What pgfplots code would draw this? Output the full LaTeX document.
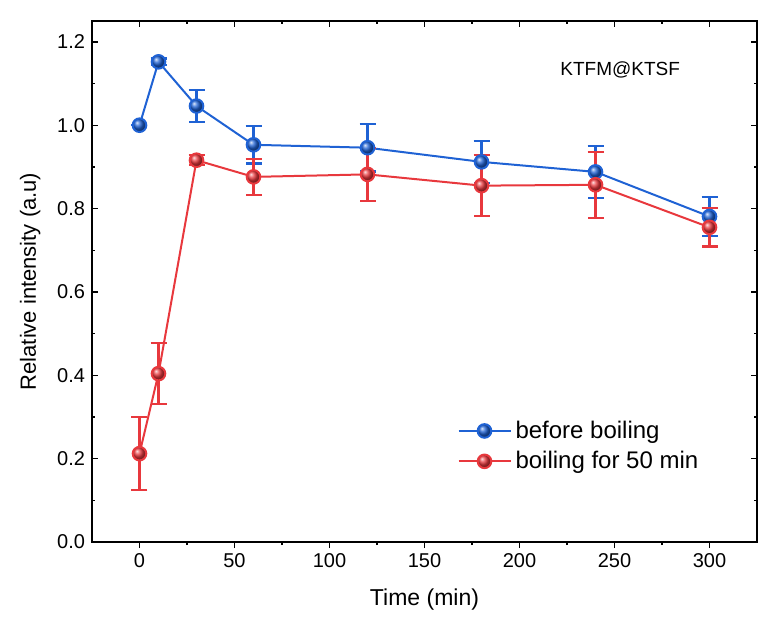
\documentclass[border=0pt]{standalone}
\usepackage{fontspec}
\setmainfont{Liberation Sans}
\usepackage{pgfplots}
\usepackage{pgfplotstable}
\pgfplotsset{compat=1.18}
\usetikzlibrary{calc}
\definecolor{bBlue}{HTML}{1F62D4}
\definecolor{bRed}{HTML}{E8383D}

% time, relative intensity, error
\pgfplotstableread{
t y e
0   1.000 0.000
10  1.152 0.008
30  1.046 0.038
60  0.953 0.045
120 0.946 0.057
180 0.912 0.050
240 0.888 0.062
300 0.781 0.047
}\before
\pgfplotstableread{
t y e
0   0.212 0.088
10  0.404 0.073
30  0.916 0.012
60  0.876 0.043
120 0.882 0.064
180 0.855 0.073
240 0.857 0.079
300 0.755 0.046
}\boiled

\pgfplotsset{
  frame/.style={
    scale only axis,
    width=332.5pt, height=260.5pt,
    xmin=-25, xmax=325, ymin=0, ymax=1.25,
    xtick={0,50,...,300}, ytick={0,0.2,...,1.2},
    minor x tick num=1, minor y tick num=1,
    major tick length=3pt, minor tick length=1.6pt,
    axis line style={line width=0.8pt},
    every tick/.style={black,line width=0.7pt},
  },
}

\begin{document}
\begin{tikzpicture}
% bottom ticks point outward
\begin{axis}[frame, tick align=outside, xtick pos=bottom, ytick=\empty,
  xticklabels={}, axis line style={draw=none}]
\end{axis}
\begin{axis}[
  frame,
  name=ax,
  xtick pos=top, xticklabel pos=bottom, ytick pos=both, yticklabel pos=left,
  yticklabel style={/pgf/number format/.cd,fixed,fixed zerofill,precision=1},
  /pgf/number format/assume math mode=true,
  tick label style={font=\fontsize{10}{12}\selectfont},
  xticklabel style={yshift=-2pt},
  tick align=inside,
  xlabel={Time (min)}, ylabel={Relative intensity (a.u)},
  xlabel style={font=\fontsize{11.5}{13}\selectfont, at={(axis description cs:0.5,-0.11)}, anchor=center},
  ylabel style={font=\fontsize{11}{13}\selectfont, at={(axis description cs:-0.093,0.5)}, anchor=center},
  clip=false,
  legend style={at={(0.54,0.184)}, anchor=west, draw=none, fill=none,
    font=\fontsize{12}{14}\selectfont, row sep=1pt},
  legend cell align=left,
  legend image code/.code={
    \draw[#1] (0pt,0pt) -- (26pt,0pt);
    \draw[#1,only marks] plot coordinates {(13pt,0pt)};
  },
]
\addplot[bBlue, line width=1pt, mark=ball, mark size=3.4pt, mark options={ball color=bBlue},
  error bars/.cd, y dir=both, y explicit,
  error bar style={solid, line width=1.1pt, draw=bBlue},
  error mark options={rotate=90, mark size=4pt, line width=1.1pt, draw=bBlue}]
  table[x=t, y=y, y error=e] {\before};
\addlegendentry{before boiling}
\addplot[bRed, line width=1pt, mark=ball, mark size=3.4pt, mark options={ball color=bRed},
  error bars/.cd, y dir=both, y explicit,
  error bar style={solid, line width=1.1pt, draw=bRed},
  error mark options={rotate=90, mark size=4pt, line width=1.1pt, draw=bRed}]
  table[x=t, y=y, y error=e] {\boiled};
\addlegendentry{boiling for 50 min}
\node[font=\fontsize{9.5}{11}\selectfont] at (axis cs:253,1.133) {KTFM@KTSF};
\end{axis}
\path ($(ax.south west)+(-46pt,-38pt)$) rectangle ($(ax.north east)+(4pt,10.5pt)$);
\end{tikzpicture}
\end{document}
